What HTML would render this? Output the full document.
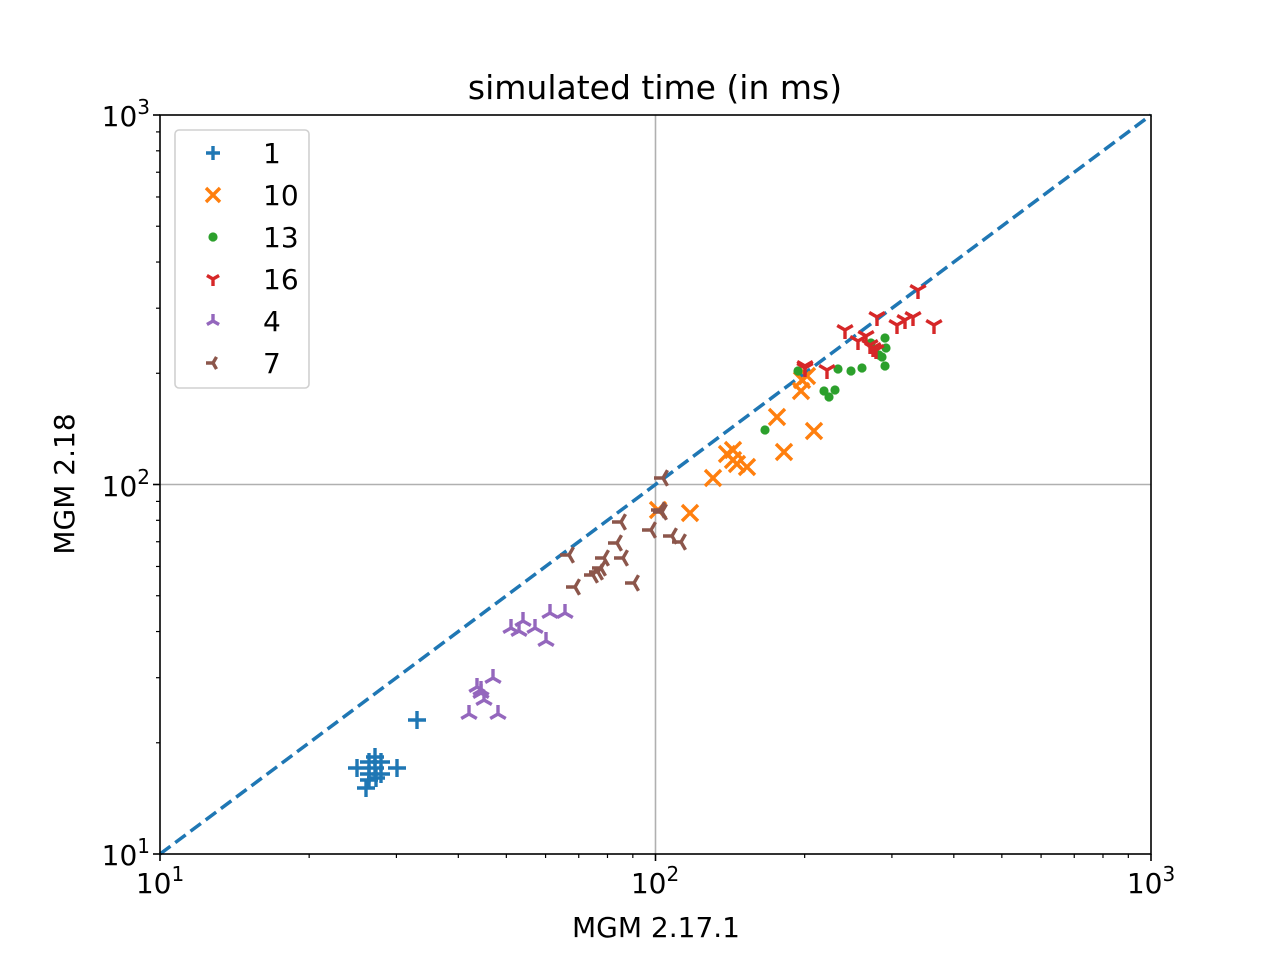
<!DOCTYPE html>
<html><head><meta charset="utf-8"><style>body{margin:0;background:#fff}svg{display:block}text{font-family:"DejaVu Sans","Liberation Sans",sans-serif;fill:#000}</style></head>
<body>
<svg id="s" width="1280" height="960" xmlns="http://www.w3.org/2000/svg">
<rect width="1280" height="960" fill="#fff"/>
<g id="grid" stroke="#b0b0b0" stroke-width="1.6">
<line x1="655.5" y1="115" x2="655.5" y2="854"/>
<line x1="160" y1="484.5" x2="1151" y2="484.5"/>
</g>
<line x1="160" y1="854" x2="1151" y2="115" stroke="#1f77b4" stroke-width="3.5" stroke-dasharray="13,6"/>
<g id="pts"></g>
<rect x="160" y="115" width="991" height="739" fill="none" stroke="#000" stroke-width="1.6"/>
<g id="ticks" stroke="#000"></g>
<text x="655" y="99" style="font-size:33px" text-anchor="middle">simulated time (in ms)</text>
<text x="656" y="937" style="font-size:28px" text-anchor="middle">MGM 2.17.1</text>
<text transform="translate(74,484) rotate(-90)" style="font-size:28px" text-anchor="middle">MGM 2.18</text>
<g style="font-size:28px">
<text x="160" y="893" text-anchor="middle">10<tspan style="font-size:20px" dy="-12">1</tspan></text>
<text x="655" y="893" text-anchor="middle">10<tspan style="font-size:20px" dy="-12">2</tspan></text>
<text x="1151" y="893" text-anchor="middle">10<tspan style="font-size:20px" dy="-12">3</tspan></text>
<text x="150" y="865" text-anchor="end">10<tspan style="font-size:20px" dy="-12">1</tspan></text>
<text x="150" y="496" text-anchor="end">10<tspan style="font-size:20px" dy="-12">2</tspan></text>
<text x="150" y="126" text-anchor="end">10<tspan style="font-size:20px" dy="-12">3</tspan></text>
</g>
<rect x="175" y="130" width="134" height="258" rx="4" fill="#fff" fill-opacity="0.8" stroke="#d0d0d0" stroke-width="1.6"/>
<g id="leg"></g>
<g style="font-size:28px">
<text x="263" y="163">1</text><text x="263" y="205">10</text><text x="263" y="247">13</text>
<text x="263" y="289">16</text><text x="263" y="331">4</text><text x="263" y="373">7</text>
</g>
</svg>
<script>
const NS="http://www.w3.org/2000/svg";
function el(p,t,a){const e=document.createElementNS(NS,t);for(const k in a)e.setAttribute(k,a[k]);p.appendChild(e);return e;}
const tk=document.getElementById('ticks');
for(let d=0;d<2;d++)for(let m=1;m<=10;m++){
 if(m==1&&d>0)continue;
 const f=Math.log10(m);
 const x=160+(d+f)*495.5, y=854-(d+f)*369.5;
 const L=(m==1||m==10)?7:4, w=(m==1||m==10)?1.6:1.2;
 el(tk,'line',{x1:x,y1:854,x2:x,y2:854+L,'stroke-width':w});
 el(tk,'line',{x1:160,y1:y,x2:160-L,y2:y,'stroke-width':w});
}
function mk(g,type,x,y,s,c){
 const a={stroke:c,'stroke-width':3.4,fill:'none'};
 if(type=='+'){el(g,'path',Object.assign({d:`M${x-s} ${y}H${x+s}M${x} ${y-s}V${y+s}`},a));}
 else if(type=='x'){el(g,'path',Object.assign({d:`M${x-s} ${y-s}L${x+s} ${y+s}M${x-s} ${y+s}L${x+s} ${y-s}`},a));}
 else if(type=='o'){el(g,'circle',{cx:x,cy:y,r:4.6,fill:c});}
 else{
  let angs = type=='v'?[90,210,330]:type=='^'?[270,30,150]:[180,300,60];
  let d='';for(const an of angs){const r=an*Math.PI/180;d+=`M${x} ${y}L${x+s*Math.cos(r)} ${y+s*Math.sin(r)}`;}
  el(g,'path',Object.assign({d:d},a));
 }
}
const P=document.getElementById('pts');
const data=[
['+','#1f77b4',[[357,768],[369,762],[381,762],[375,768],[369,774],[381,774],[397,768],[366,788],[376,778],[417,720],[375,757],[369,780]]],
['x','#ff7f0e',[[658,510],[690,513],[713,478],[727,454],[733,450],[737,464],[747,467],[733,460],[784,452],[801,391],[777,417],[814,431],[807,376],[802,380]]],
['o','#2ca02c',[[765,430],[798,371],[838,369],[851,371],[862,368],[824,391],[829,397],[835,390],[879,355],[886,348],[885,338],[882,357],[885,366],[871,343]]],
['v','#d62728',[[805,368],[827,370],[845,330],[858,341],[866,336],[877,317],[897,325],[905,320],[913,317],[918,290],[934,325],[876,350],[870,345],[873,348],[805,366]]],
['^','#9467bd',[[469,714],[498,714],[484,700],[477,687],[481,690],[493,678],[511,628],[519,631],[523,621],[535,628],[546,641],[550,613],[565,613],[481,693]]],
['<','#8c564b',[[569,555],[575,587],[593,575],[598,572],[601,568],[604,558],[617,543],[621,522],[623,558],[634,583],[651,530],[662,512],[663,478],[672,536],[681,542],[660,510]]]
];
for(const [t,c,pts] of data)for(const [x,y] of pts)mk(P,t,x,y,t=='+'?9:t=='x'?8:9,c);
const G=document.getElementById('leg');
data.forEach(([t,c],i)=>mk(G,t,213,153+42*i,7,c));
</script>
</body></html>
